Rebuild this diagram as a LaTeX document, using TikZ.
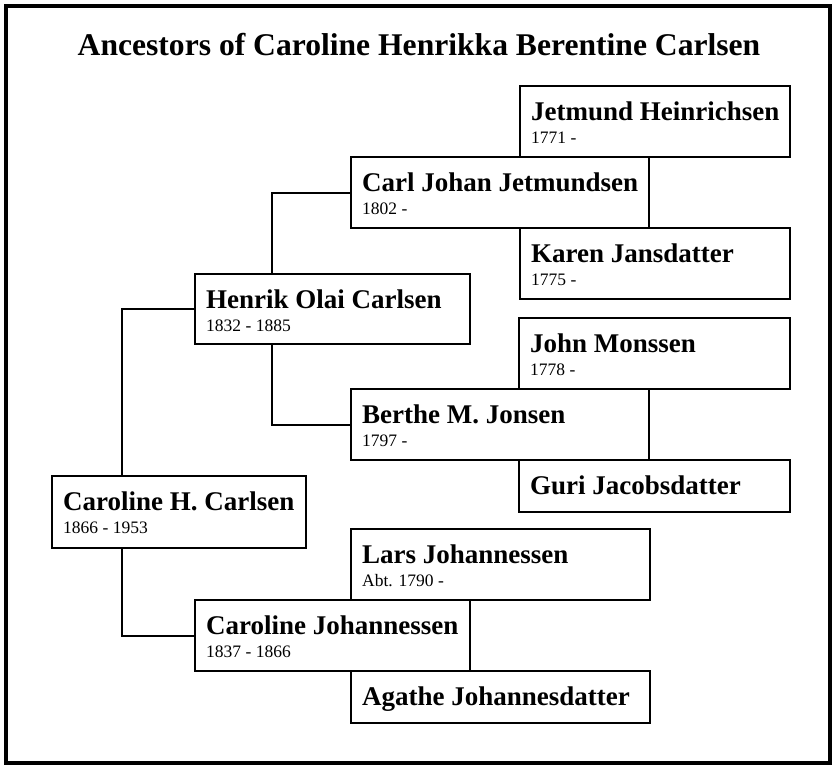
\documentclass[tikz,border=0pt]{standalone}
\usepackage{fontspec}
\setmainfont{Liberation Serif}
\usetikzlibrary{calc}
\tikzset{
  pbox/.style={draw=black, line width=2pt, fill=white, rectangle, inner sep=0pt, anchor=north west},
  pname/.style={anchor=base west, inner sep=0pt, font=\fontsize{27}{27}\selectfont\bfseries},
  pdate/.style={anchor=base west, inner sep=0pt, font=\fontsize{17.5}{17.5}\selectfont},
  conn/.style={draw=black, line width=2pt},
  titlestyle/.style={anchor=base, inner sep=0pt, font=\fontsize{31.6}{31.6}\selectfont\bfseries}
}
\newcommand{\pboxtwo}[7]{%
  \node[pbox, minimum width=#4pt, minimum height=#5pt] (#1) at (#2,#3) {};
  \node[pname] (#1n) at ($(#1.north west)+(12,35)$) {#6};
  \node[pdate] (#1d) at ($(#1.north west)+(12,58)$) {#7};
}
\newcommand{\pboxone}[6]{%
  \node[pbox, minimum width=#4pt, minimum height=#5pt] (#1) at (#2,#3) {};
  \node[pname] (#1n) at ($(#1.north west)+(12,35)$) {#6};
}
\begin{document}
\begin{tikzpicture}[x=1pt, y=-1pt]
\useasboundingbox[fill=white] (0,0) rectangle (833,766);
\draw[line width=4pt] (6,6) rectangle (830,763);
\node[titlestyle] (title) at (419,55) {Ancestors of Caroline Henrikka Berentine Carlsen};

\coordinate (chtop) at (122,475);
\coordinate (chbot) at (122,547);
\coordinate (hotop) at (272,273);
\coordinate (hobot) at (272,343);

\pboxtwo{jet}{519}{85}{270}{71}{Jetmund Heinrichsen}{1771 -}
\pboxtwo{carl}{350}{156}{298}{71}{Carl Johan Jetmundsen}{1802 -}
\pboxtwo{karen}{519}{227}{270}{71}{Karen Jansdatter}{1775 -}
\pboxtwo{henrik}{194}{273}{275}{70}{Henrik Olai Carlsen}{1832 - 1885}
\pboxtwo{john}{518}{317}{271}{71}{John Monssen}{1778 -}
\pboxtwo{berthe}{350}{388}{298}{71}{Berthe M. Jonsen}{1797 -}
\pboxone{guri}{518}{459}{271}{52}{Guri Jacobsdatter}
\pboxtwo{ch}{51}{475}{254}{72}{Caroline H. Carlsen}{1866 - 1953}
\pboxtwo{lars}{350}{528}{299}{71}{Lars Johannessen}{Abt. 1790 -}
\pboxtwo{cj}{194}{599}{275}{71}{Caroline Johannessen}{1837 - 1866}
\pboxone{agathe}{350}{670}{299}{52}{Agathe Johannesdatter}

\draw[conn] (carl.west) -| (henrik.north -| hotop);
\draw[conn] (henrik.south -| hobot) |- (berthe.west);
\draw[conn] (ch.north -| chtop) |- (henrik.west);
\draw[conn] (ch.south -| chbot) |- (cj.west);
\end{tikzpicture}
\end{document}
